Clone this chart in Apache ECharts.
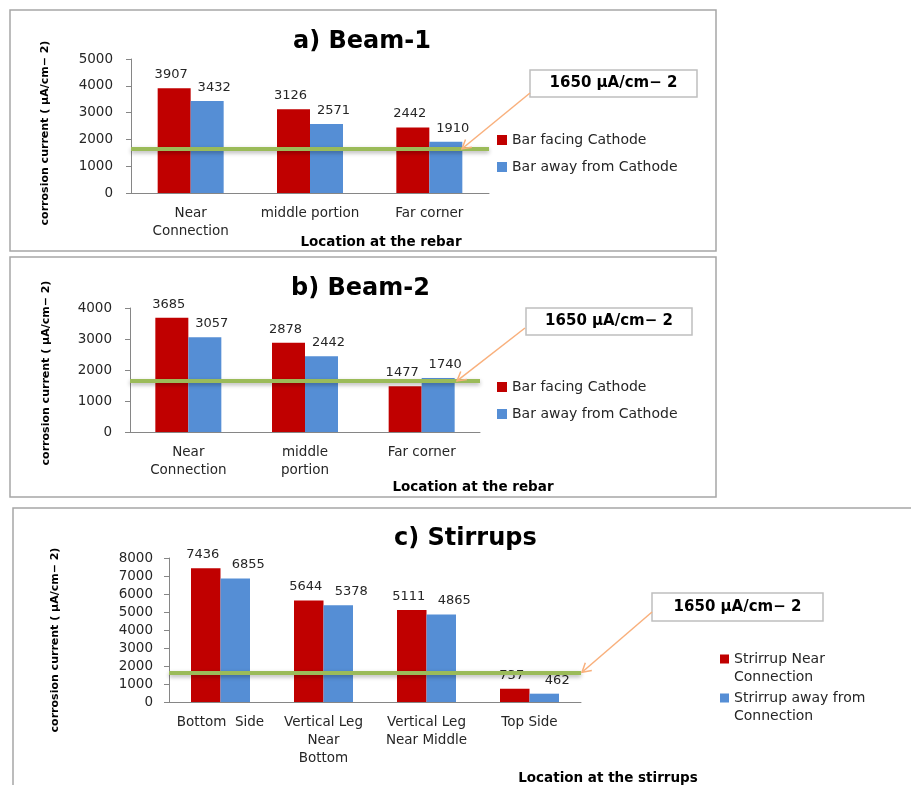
<!DOCTYPE html>
<html>
<head>
<meta charset="utf-8">
<script src="https://cdn.jsdelivr.net/npm/echarts@6/dist/echarts.min.js"></script>
<style>
  html, body { margin: 0; padding: 0; background: #ffffff; }
  #chart { width: 911px; height: 785px; }
</style>
</head>
<body>
<div id="chart"></div>
<script>
// ---- data ----
const beam1Categories = ['Near\nConnection', 'middle portion', 'Far corner'];
const beam1Facing = [3907, 3126, 2442];
const beam1Away = [3432, 2571, 1910];
const beam1Ticks = [0, 1000, 2000, 3000, 4000, 5000];

const beam2Categories = ['Near\nConnection', 'middle\nportion', 'Far corner'];
const beam2Facing = [3685, 2878, 1477];
const beam2Away = [3057, 2442, 1740];
const beam2Ticks = [0, 1000, 2000, 3000, 4000];

const stirrupCategories = ['Bottom  Side', 'Vertical Leg\nNear\nBottom', 'Vertical Leg\nNear Middle', 'Top Side'];
const stirrupNear = [7436, 5644, 5111, 737];
const stirrupAway = [6855, 5378, 4865, 462];
const stirrupTicks = [0, 1000, 2000, 3000, 4000, 5000, 6000, 7000, 8000];

const threshold = 1650;
const thresholdText = '1650 µA/cm− 2';
const yTitle = 'corrosion current ( µA/cm− 2)';
const panelTitles = ['a) Beam-1', 'b) Beam-2', 'c) Stirrups'];
const xTitles = ['Location at the rebar', 'Location at the rebar', 'Location at the stirrups'];
const beamSeriesNames = ['Bar facing Cathode', 'Bar away from Cathode'];
const stirrupSeriesNames = ['Strirrup Near Connection', 'Strirrup away from Connection'];
const stirrupLegendText = {
  'Strirrup Near Connection': 'Strirrup Near\nConnection',
  'Strirrup away from Connection': 'Strirrup away from\nConnection'
};

// ---- styling ----
const FONT = '"DejaVu Sans", Verdana, sans-serif';
const RED = '#C00000';
const BLUE = '#558ED5';
const GREEN = '#9BBB59';
const ORANGE = '#F9B07C';
const AXIS = '#868686';
const INK = '#262626';

// square legend marker that sits at the top of a tall item box,
// so it lines up with the first line of a two-line legend entry
const TOP_SQUARE = 'path://M0,0H9V9H0Z M0,26.98H0.02V27H0Z';

// panel layout: grid box, border box, titles, legend and annotation placement
const panels = [
  { grid: { left: 131, top: 59, width: 358, height: 134 }, border: [10, 10, 706, 241],
    title: [293, 30], yTitle: [45, 133], xTitle: [381, 242], barWidth: 33,
    box: [530, 70, 167, 27], arrowFrom: [530, 93], arrowTipX: 462,
    legend: { left: 497, top: 132 } },
  { grid: { left: 130, top: 308, width: 350, height: 124 }, border: [10, 257, 706, 240],
    title: [291, 277], yTitle: [46, 373], xTitle: [473, 487], barWidth: 33,
    box: [526, 308, 166, 27], arrowFrom: [525, 328], arrowTipX: 457,
    legend: { left: 497, top: 379 } },
  { grid: { left: 169, top: 558, width: 412, height: 144 }, border: [13, 508, 940, 320],
    title: [394, 527], yTitle: [55, 640], xTitle: [608, 778], barWidth: 29.5,
    box: [652, 593, 171, 28], arrowFrom: [652, 612], arrowTipX: 582,
    legend: { left: 720, top: 650 } }
];

const categorySets = [beam1Categories, beam2Categories, stirrupCategories];
const tickSets = [beam1Ticks, beam2Ticks, stirrupTicks];
const valueSets = [[beam1Facing, beam1Away], [beam2Facing, beam2Away], [stirrupNear, stirrupAway]];
const nameSets = [beamSeriesNames, beamSeriesNames, stirrupSeriesNames];

const xAxes = categorySets.map((cats, i) => ({
  type: 'category', gridIndex: i, data: cats,
  axisLine: { lineStyle: { color: AXIS, width: 1 } },
  axisTick: { show: false },
  axisLabel: { interval: 0, fontFamily: FONT, fontSize: 13.5, lineHeight: 18, color: INK, margin: 11 }
}));

const yAxes = tickSets.map((ticks, i) => ({
  type: 'value', gridIndex: i,
  min: ticks[0], max: ticks[ticks.length - 1], interval: ticks[1] - ticks[0],
  axisLine: { show: true, lineStyle: { color: AXIS, width: 1 } },
  axisTick: { show: true, length: 5, lineStyle: { color: AXIS } },
  splitLine: { show: false },
  axisLabel: { fontFamily: FONT, fontSize: 13.5, color: INK, margin: i === 2 ? 16 : 18,
    formatter: v => String(v) }
}));

const thresholdLine = {
  silent: true, symbol: 'none', label: { show: false },
  lineStyle: { color: GREEN, width: 4, type: 'solid', opacity: 1,
    shadowColor: 'rgba(0,0,0,0.3)', shadowBlur: 4, shadowOffsetY: 2 },
  emphasis: { disabled: true },
  data: [{ yAxis: threshold }]
};

const series = [];
valueSets.forEach((pair, i) => {
  pair.forEach((values, k) => {
    series.push({
      type: 'bar', name: nameSets[i][k], data: values,
      xAxisIndex: i, yAxisIndex: i,
      barWidth: panels[i].barWidth, barGap: '0%',
      itemStyle: { color: k === 0 ? RED : BLUE },
      label: { show: true, position: 'top', distance: 7,
        offset: [k === 0 ? -3 : (i === 2 ? 13 : 7), 0],
        fontFamily: FONT, fontSize: 13, color: INK },
      markLine: k === 1 ? thresholdLine : undefined,
      z: 2
    });
  });
});

const legends = panels.map((p, i) => {
  const base = {
    orient: 'vertical', left: p.legend.left, top: p.legend.top, padding: 0,
    icon: 'rect', itemWidth: 10, itemHeight: 10, itemGap: 11,
    data: nameSets[i], selectedMode: false,
    textStyle: { fontFamily: FONT, fontSize: 14, color: INK, lineHeight: 16 }
  };
  if (i === 2) {
    base.icon = TOP_SQUARE;
    base.itemWidth = 9; base.itemHeight = 27;
    base.itemGap = 3;
    base.formatter = name => stirrupLegendText[name];
    base.textStyle = { fontFamily: FONT, fontSize: 14, color: INK, lineHeight: 18 };
  }
  return base;
});

const titles = panels.map((p, i) => ({
  text: panelTitles[i], left: p.title[0], top: p.title[1], padding: 0,
  textStyle: { fontFamily: FONT, fontWeight: 'bold', fontSize: 24, color: '#000' }
}));

function staticGraphics() {
  const g = [];
  panels.forEach((p, i) => {
    const [bx, by, bw, bh] = p.border;
    g.push({ type: 'rect', silent: true, z: -1,
      shape: { x: bx, y: by, width: bw, height: bh },
      style: { fill: 'none', stroke: '#A6A6A6', lineWidth: 1.5 } });
    g.push({ type: 'text', silent: true, x: p.yTitle[0], y: p.yTitle[1], rotation: Math.PI / 2,
      style: { text: yTitle, fontFamily: FONT, fontWeight: 'bold', fontSize: 11, fill: '#000',
        align: 'center', verticalAlign: 'middle' } });
    g.push({ type: 'text', silent: true, x: p.xTitle[0], y: p.xTitle[1],
      style: { text: xTitles[i], fontFamily: FONT, fontWeight: 'bold', fontSize: 13.5, fill: '#000',
        align: 'center', verticalAlign: 'middle' } });
    const [rx, ry, rw, rh] = p.box;
    g.push({ type: 'rect', silent: true,
      shape: { x: rx, y: ry, width: rw, height: rh },
      style: { fill: '#fff', stroke: '#BFBFBF', lineWidth: 1.5 } });
    g.push({ type: 'text', silent: true, x: rx + rw / 2, y: ry + rh / 2,
      style: { text: thresholdText, fontFamily: FONT, fontWeight: 'bold', fontSize: 15, fill: '#000',
        align: 'center', verticalAlign: 'middle' } });
  });
  return g;
}

const chart = echarts.init(document.getElementById('chart'), null, { renderer: 'canvas' });
chart.setOption({
  animation: false,
  backgroundColor: '#ffffff',
  title: titles,
  legend: legends,
  grid: panels.map(p => Object.assign({ containLabel: false }, p.grid)),
  xAxis: xAxes,
  yAxis: yAxes,
  series: series,
  graphic: staticGraphics()
});

// arrows pointing from each annotation box to its threshold line
function arrowGraphics() {
  const g = [];
  panels.forEach((p, i) => {
    const tipY = chart.convertToPixel({ yAxisIndex: i }, threshold);
    const [x0, y0] = p.arrowFrom;
    const x1 = p.arrowTipX, y1 = tipY;
    const ang = Math.atan2(y1 - y0, x1 - x0);
    const head = 10, spread = Math.PI / 6;
    const a1 = ang + Math.PI - spread, a2 = ang + Math.PI + spread;
    const style = { stroke: ORANGE, lineWidth: 1.5, fill: 'none' };
    g.push({ type: 'line', silent: true, z: 10, shape: { x1: x0, y1: y0, x2: x1, y2: y1 }, style });
    g.push({ type: 'polyline', silent: true, z: 10,
      shape: { points: [
        [x1 + head * Math.cos(a1), y1 + head * Math.sin(a1)],
        [x1, y1],
        [x1 + head * Math.cos(a2), y1 + head * Math.sin(a2)]
      ] }, style });
  });
  return g;
}

chart.setOption({ graphic: staticGraphics().concat(arrowGraphics()) }, { replaceMerge: ['graphic'] });
</script>
</body>
</html>
